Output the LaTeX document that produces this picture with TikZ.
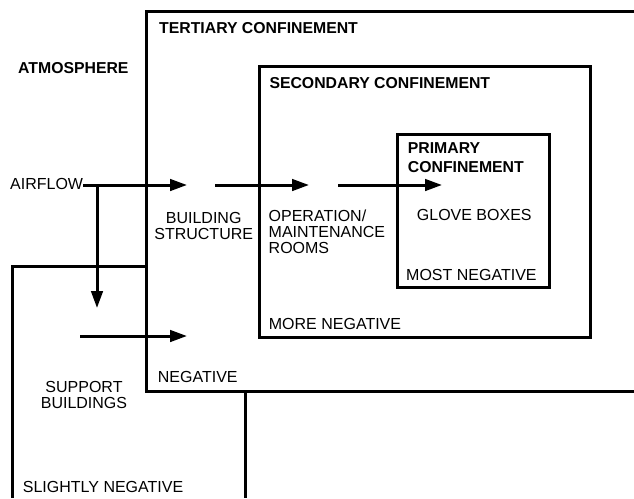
\documentclass[tikz,border=0pt]{standalone}
\usepackage{fontspec}
\setmainfont{Liberation Sans}
\usetikzlibrary{arrows.meta}
\tikzset{
  wall/.style={line width=3pt, line cap=butt, line join=miter},
  flow/.style={line width=3pt, -{Triangle[length=17pt,width=11.5pt]}},
  lbl/.style={inner sep=0pt, font=\fontsize{16}{16}\selectfont},
  blbl/.style={inner sep=0pt, font=\fontsize{15.8}{19}\selectfont\bfseries},
}
\begin{document}
\begin{tikzpicture}[x=1pt,y=-1pt]
\useasboundingbox (0,0) rectangle (634,498);
% boxes
\draw[wall] (634,11) -- (146,11) -- (146,391.5) -- (634,391.5);
\draw[wall] (146,266.7) -- (12,266.7) -- (12,498);
\draw[wall] (245,391.5) -- (245,498);
\draw[wall] (259,66) rectangle (590.5,337);
\draw[wall] (397,134) rectangle (549,287);
% labels
\node[blbl, anchor=base west] (tert) at (159,33.3) {TERTIARY CONFINEMENT};
\node[blbl, anchor=base west] (atm) at (18,73.3) {ATMOSPHERE};
\node[blbl, anchor=base west] (sec) at (269.3,88.3) {SECONDARY CONFINEMENT};
\node[blbl, anchor=base west, align=left] (prim) at (407.7,172.3) {PRIMARY\\CONFINEMENT};
\node[lbl, anchor=base west] (glove) at (416.7,220.7) {GLOVE BOXES};
\node[lbl, anchor=base west] (most) at (406,280) {MOST NEGATIVE};
\node[lbl, anchor=base west] (more) at (268.7,329) {MORE NEGATIVE};
\node[lbl, anchor=base west] (neg) at (157.7,382.3) {NEGATIVE};
\node[lbl, anchor=base west] (slight) at (22.7,492.3) {SLIGHTLY NEGATIVE};
\node[lbl, anchor=base, align=center] (bldg) at (203.7,239.3) {BUILDING\\STRUCTURE};
\node[lbl, anchor=base west, align=left] (oper) at (268.5,253) {OPERATION/\\MAINTENANCE\\ROOMS};
\node[lbl, anchor=base, align=center] (supp) at (84,408.3) {SUPPORT\\BUILDINGS};
\node[lbl, anchor=base west] (air) at (10,189.3) {AIRFLOW};
% flow coordinates
\coordinate (a0) at (85,185);
\coordinate (a1) at (187,185);
\coordinate (b0) at (215,185);
\coordinate (b1) at (309,185);
\coordinate (c0) at (338,185);
\coordinate (c1) at (442,185);
\coordinate (v0) at (97,185);
\coordinate (v1) at (97,308);
\coordinate (d0) at (80,336);
\coordinate (d1) at (187,336);
\draw[line width=3pt] (air.east |- a0) -- (a0);
\draw[flow] (a0) -- (a1);
\draw[flow] (b0) -- (b1);
\draw[flow] (c0) -- (c1);
\draw[flow] (v0) -- (v1);
\draw[flow] (d0) -- (d1);
\end{tikzpicture}
\end{document}
